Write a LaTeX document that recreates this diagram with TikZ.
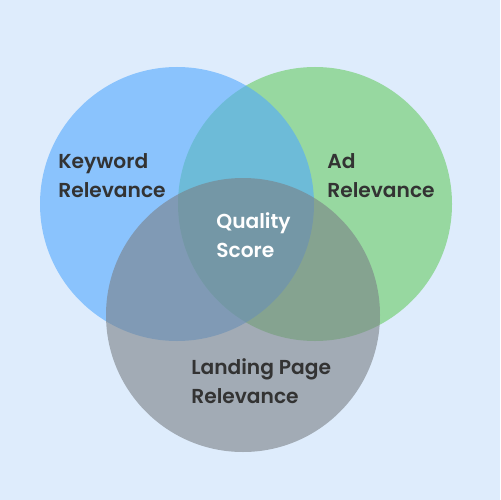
\documentclass[tikz,border=0pt]{standalone}
\usepackage{fontspec}
\setmainfont{Poppins}[BoldFont={Poppins SemiBold}]
\usepackage{tikz}
\usetikzlibrary{positioning}

\definecolor{bgblue}{RGB}{222,236,252}
\definecolor{kwblue}{RGB}{82,169,254}
\definecolor{adgreen}{RGB}{104,203,100}
\definecolor{lpgray}{RGB}{122,128,134}
\definecolor{labeltext}{RGB}{51,51,51}

\tikzset{
  venn/.style={fill opacity=0.6},
  vennlabel/.style={font=\fontsize{11.5}{16.4}\selectfont\bfseries, text=labeltext,
    align=left, inner sep=0pt, anchor=base west}
}

\begin{document}
\begin{tikzpicture}[x=0.02cm, y=-0.02cm]

  % Background
  \fill[bgblue] (0,0) rectangle (500,500);
  \useasboundingbox (0,0) rectangle (500,500);

  % Ad relevance circle
  \fill[adgreen, venn] (315,204) circle[radius=137];

  % Keyword relevance circle
  \fill[kwblue, venn] (177,204) circle[radius=137];

  % Landing page circle
  \fill[lpgray, venn] (243,315) circle[radius=137];

  % Labels (anchored at the baseline of the second line)
  \node[vennlabel] (keyword) at (58,197) {Keyword\\Relevance};
  \node[vennlabel] (ad) at (327,197) {Ad\\Relevance};
  \node[vennlabel, text=white] (quality) at (216,257) {Quality\\Score};
  \node[vennlabel] (landing) at (191,403) {Landing Page\\Relevance};

\end{tikzpicture}
\end{document}
